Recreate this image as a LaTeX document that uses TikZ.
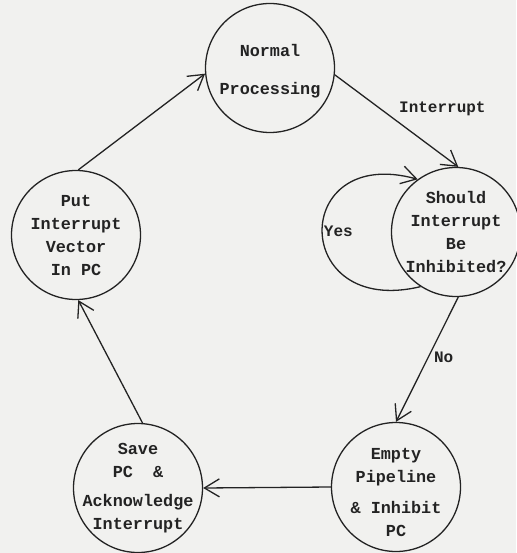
\documentclass[tikz,border=0pt]{standalone}
\usepackage{fontspec}
\setmonofont{Liberation Mono}
\usetikzlibrary{arrows.meta,positioning}
\definecolor{ink}{HTML}{232323}
\definecolor{paper}{HTML}{F1F1EF}
\tikzset{
  state/.style={
    draw=ink, line width=1.3pt, circle,
    minimum size=129pt, inner sep=0pt
  },
  txt/.style={
    align=center, text=ink, inner sep=0pt,
    font=\ttfamily\bfseries\fontsize{16.8}{23}\selectfont
  },
  lbl/.style={
    text=ink, inner sep=2pt,
    font=\ttfamily\bfseries\fontsize{16}{20}\selectfont
  },
  arrow/.style={-{Straight Barb[length=15pt,width=18pt]}, line width=1.3pt, draw=ink}
}

\begin{document}
\begin{tikzpicture}[x=1pt, y=-1pt]
    \fill[paper] (0,0) rectangle (516,553);
    \useasboundingbox (0,0) rectangle (516,553);

    % the five states
    \node[state] (normal) at (270,68) {};
    \node[state] (should) at (456,232) {};
    \node[state] (empty) at (396,487) {};
    \node[state] (save) at (138,488) {};
    \node[state] (put) at (76,235) {};

    \node[txt] (normal-txt) at ([yshift=-3pt]normal) {Normal\\[15pt]Processing};
    \node[txt] (should-txt) at (should) {Should\\Interrupt\\Be\\Inhibited?};
    \node[txt] (empty-txt) at ([yshift=-5pt]empty) {Empty\\Pipeline\\[8pt]\& Inhibit\\PC};
    \node[txt] (save-txt) at (save) {Save\\PC \ \&\\[6pt]Acknowledge\\Interrupt};
    \node[txt] (put-txt) at (put) {Put\\Interrupt\\Vector\\In PC};

    \draw[arrow] (normal.-6) -- (should.88)
        node[lbl, pos=.5, above right, yshift=2pt] (intr) {Interrupt};
    \draw[arrow] (should.237) .. controls (290,318) and (290,144) .. (should.126)
        node[lbl, pos=.5, right, inner sep=1pt] (yes) {Yes};
    \draw[arrow] (should.-88) -- (empty.90)
        node[lbl, pos=.48, right, xshift=3pt] (no) {No};
    \draw[arrow] (empty.180) -- (save.0);
    \draw[arrow] (save.86) -- (put.-88);
    \draw[arrow] (put.88) -- (normal.185);
\end{tikzpicture}
\end{document}
